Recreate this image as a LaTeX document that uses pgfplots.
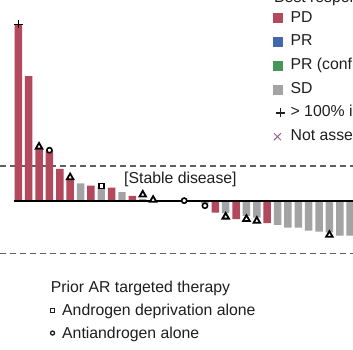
\documentclass[border=0pt]{standalone}
\usepackage{pgfplots}
\pgfplotsset{compat=1.18}
\usepackage{fontspec}
\setmainfont{Liberation Sans}
\definecolor{pdcol}{RGB}{180,72,92}
\definecolor{prcol}{RGB}{66,103,172}
\definecolor{prccol}{RGB}{70,150,90}
\definecolor{sdcol}{RGB}{163,163,163}
\definecolor{txt}{RGB}{30,30,30}
\definecolor{nacol}{RGB}{150,100,135}
\definecolor{dashcol}{RGB}{95,95,95}
\newcommand{\lfont}{\fontsize{15.8}{18}\selectfont}
\begin{document}
\begin{tikzpicture}[x=1pt,y=1pt]
\path[use as bounding box, clip] (0,0) rectangle (353,350);
\begin{axis}[
  at={(0,0)}, anchor=south west, scale only axis,
  width=353pt, height=350pt,
  xmin=-1.7647, xmax=32.276, ymin=-85.143, ymax=114.857,
  axis lines=none, clip=false,
  legend cell align=left,
  legend style={at={(0.7734,0.9686)}, anchor=north west, draw=none, fill=none,
    inner sep=0pt, row sep=9.7pt, font=\lfont, text=txt,
    nodes={inner sep=0pt, text height=11pt, text depth=3pt}},
]
% reference lines
\addplot[forget plot, dashcol, line width=1.2pt, dash pattern=on 6pt off 4pt] coordinates {(-1.7647,20) (32.3,20)};
\addplot[forget plot, dashcol, line width=1.2pt, dash pattern=on 6pt off 4pt] coordinates {(-1.7647,-30) (32.3,-30)};
% PD bars
\addplot[forget plot, ybar, bar width=0.72, bar shift=0pt, fill=pdcol, draw=none] coordinates {
(0,101) (1,71.4) (2,29.5) (3,28.5) (4,18.3) (5,12) (7,8.8) (9,7.6) (11,2.9) (19,-6.7) (21,-10.3) (24,-12.6)};
% SD bars
\addplot[forget plot, ybar, bar width=0.72, bar shift=0pt, fill=sdcol, draw=none] coordinates {
(6,10.1) (8,8.0) (10,5.1) (12,1.2) (18,-1.5) (20,-6.9) (22,-8.5) (23,-9.5) (25,-13.7) (26,-15.2) (27,-15.2) (28,-17) (29,-17.5) (30,-17.9) (31,-19.8) (32,-19.8)};
% baseline
\addplot[forget plot, black, line width=1.3pt] coordinates {(-0.45,0) (32.3,0)};
% markers
\addplot[forget plot, only marks, mark=triangle*, mark size=3.8pt, mark options={fill=white, draw=black, line width=1.8pt}] coordinates {
(2,31) (5,13.5) (12,3.6) (13,0.6) (20,-9) (22,-10.3) (23,-11.4) (30,-19.4)};
\addplot[forget plot, only marks, mark=*, mark size=2.6pt, mark options={fill=white, draw=black, line width=1.6pt}] coordinates {
(3,29) (16,0.2) (18,-2.7)};
\addplot[forget plot, only marks, mark=square*, mark size=2.5pt, mark options={fill=white, draw=black, line width=1.6pt}] coordinates {
(8,8.5)};
\addplot[forget plot, only marks, mark=+, mark size=4.2pt, mark options={draw=black, line width=1.4pt}] coordinates {
(0,101)};
% legend
\addlegendimage{legend image code/.code={\fill[pdcol] (0pt,-4.5pt) rectangle (9pt,4.5pt); \path (17pt,0pt);}}
\addlegendentry{PD}
\addlegendimage{legend image code/.code={\fill[prcol] (0pt,-4.5pt) rectangle (9pt,4.5pt); \path (17pt,0pt);}}
\addlegendentry{PR}
\addlegendimage{legend image code/.code={\fill[prccol] (0pt,-4.5pt) rectangle (9pt,4.5pt); \path (17pt,0pt);}}
\addlegendentry{PR (confirmed)}
\addlegendimage{legend image code/.code={\fill[sdcol] (0pt,-4.5pt) rectangle (9pt,4.5pt); \path (17pt,0pt);}}
\addlegendentry{SD}
\addlegendimage{legend image code/.code={\draw[txt, line width=1.2pt] (2.5pt,0pt) -- (11.5pt,0pt) (7pt,-4.5pt) -- (7pt,4.5pt); \path (0pt,0pt) (17pt,0pt);}}
\addlegendentry{> 100\% increase}
\addlegendimage{legend image code/.code={\draw[nacol, line width=1pt] (0.5pt,-3.5pt) -- (7.5pt,3.5pt) (0.5pt,3.5pt) -- (7.5pt,-3.5pt); \path (0pt,0pt) (17pt,0pt);}}
\addlegendentry{Not assessed}
\end{axis}
\node[anchor=base west, inner sep=0pt, font=\lfont, text=txt] at (274,347) {Best response};
\node[anchor=base west, inner sep=0pt, font=\lfont, text=txt] at (124,166.7) {[Stable disease]};
\node[anchor=base west, inner sep=0pt, font=\lfont, text=txt] at (50.7,57.3) {Prior AR targeted therapy};
\node[anchor=base west, inner sep=0pt, font=\lfont, text=txt] at (49.7,34.3) {\raisebox{2.6pt}{\tikz\draw[line width=1.3pt, fill=white] (0,0) rectangle (4pt,4pt);}\hspace{7pt}Androgen deprivation alone};
\node[anchor=base west, inner sep=0pt, font=\lfont, text=txt] at (49.7,11.7) {\raisebox{2.6pt}{\tikz\draw[line width=1.3pt, fill=white] (2pt,2pt) circle (2pt);}\hspace{7pt}Antiandrogen alone};
\end{tikzpicture}
\end{document}
